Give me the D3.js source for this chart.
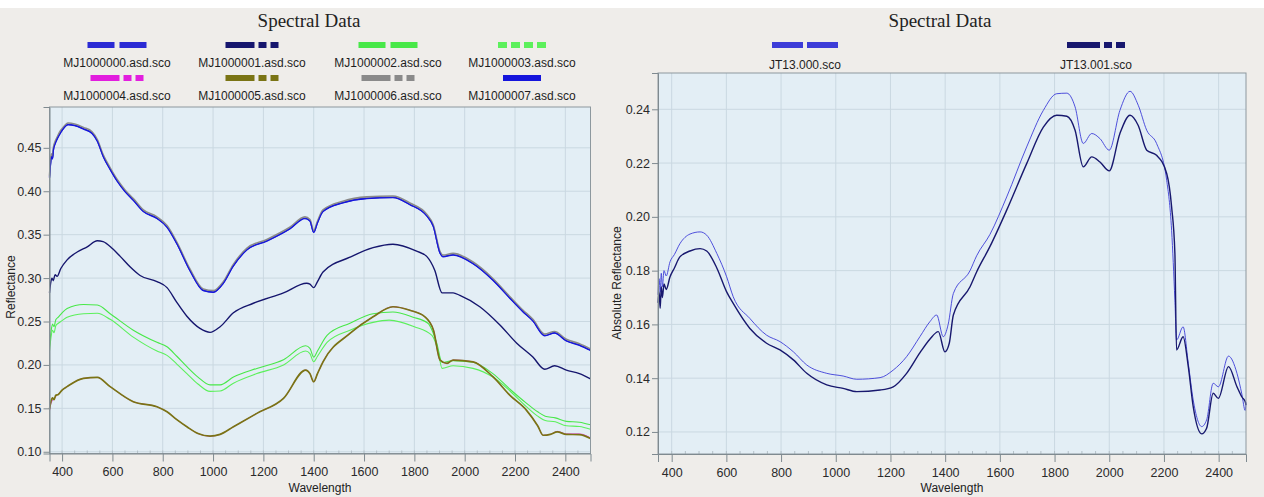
<!DOCTYPE html>
<html>
<head>
<meta charset="utf-8">
<script src="https://cdn.jsdelivr.net/npm/d3@7"></script>
<style>
body{margin:0;background:#efedea;}
svg{display:block;}
</style>
</head>
<body>
<svg id="chart" width="1264" height="497"></svg>
<script>
const wavelengthTicks = [400, 600, 800, 1000, 1200, 1400, 1600, 1800, 2000, 2200, 2400];
const leftYTicks = [0.10, 0.15, 0.20, 0.25, 0.30, 0.35, 0.40, 0.45];
const rightYTicks = [0.12, 0.14, 0.16, 0.18, 0.20, 0.22, 0.24];

const leftNames = ["MJ1000000.asd.sco", "MJ1000001.asd.sco", "MJ1000002.asd.sco", "MJ1000003.asd.sco",
                   "MJ1000004.asd.sco", "MJ1000005.asd.sco", "MJ1000006.asd.sco", "MJ1000007.asd.sco"];
const rightNames = ["JT13.000.sco", "JT13.001.sco"];

// [wavelength, reflectance]
const mj1000000 = [[350,0.416],[354,0.432],[358,0.441],[362,0.438],[366,0.449],[372,0.455],[380,0.46],[390,0.466],[400,0.47],[424,0.477],[450,0.476],[485,0.472],[519,0.467],[540,0.458],[564,0.44],[590,0.426],[619,0.412],[650,0.40],[683,0.39],[723,0.377],[777,0.369],[817,0.359],[856,0.340],[908,0.309],[961,0.286],[1001,0.284],[1040,0.294],[1080,0.314],[1135,0.333],[1214,0.343],[1305,0.357],[1365,0.369],[1385,0.366],[1400,0.353],[1415,0.364],[1437,0.377],[1516,0.387],[1611,0.392],[1715,0.393],[1782,0.385],[1849,0.372],[1875,0.36],[1902,0.329],[1914,0.325],[1954,0.327],[2033,0.317],[2112,0.298],[2180,0.277],[2230,0.262],[2271,0.251],[2318,0.234],[2357,0.237],[2404,0.228],[2456,0.223],[2500,0.217]];
const mj1000001 = [[350,0.283],[355,0.295],[360,0.30],[365,0.297],[372,0.304],[380,0.302],[395,0.311],[420,0.321],[460,0.330],[500,0.336],[540,0.343],[563,0.342],[600,0.334],[631,0.325],[670,0.313],[710,0.303],[777,0.296],[817,0.289],[856,0.272],[896,0.256],[948,0.242],[988,0.2375],[1028,0.244],[1081,0.26],[1160,0.271],[1280,0.283],[1372,0.294],[1385,0.293],[1400,0.289],[1415,0.296],[1437,0.307],[1544,0.324],[1636,0.335],[1715,0.339],[1809,0.331],[1849,0.325],[1881,0.309],[1910,0.283],[1954,0.283],[1981,0.280],[2060,0.267],[2140,0.246],[2207,0.225],[2271,0.209],[2318,0.195],[2357,0.199],[2404,0.194],[2456,0.19],[2500,0.184]];
const mj1000002 = [[350,0.221],[356,0.238],[362,0.247],[368,0.244],[375,0.252],[385,0.255],[400,0.26],[420,0.265],[485,0.2695],[540,0.269],[591,0.259],[683,0.24],[777,0.226],[817,0.221],[856,0.21],[896,0.198],[940,0.186],[988,0.177],[1028,0.177],[1081,0.186],[1174,0.196],[1280,0.206],[1368,0.222],[1385,0.219],[1400,0.209],[1415,0.216],[1453,0.234],[1544,0.248],[1636,0.259],[1715,0.261],[1795,0.255],[1854,0.248],[1889,0.225],[1910,0.203],[1954,0.205],[2033,0.203],[2112,0.19],[2180,0.172],[2245,0.156],[2290,0.146],[2320,0.141],[2360,0.139],[2404,0.135],[2456,0.134],[2500,0.131]];
const mj1000003 = [[350,0.216],[356,0.232],[362,0.24],[368,0.237],[375,0.245],[385,0.248],[400,0.251],[420,0.255],[485,0.259],[540,0.2595],[591,0.2525],[683,0.232],[777,0.216],[817,0.211],[856,0.201],[896,0.19],[940,0.178],[988,0.1695],[1028,0.17],[1081,0.179],[1174,0.19],[1280,0.2],[1368,0.216],[1385,0.213],[1400,0.2036],[1415,0.21],[1453,0.226],[1544,0.240],[1636,0.249],[1700,0.2516],[1800,0.244],[1870,0.234],[1895,0.215],[1910,0.196],[1954,0.199],[2033,0.196],[2112,0.186],[2180,0.17],[2245,0.152],[2290,0.141],[2320,0.136],[2360,0.1345],[2404,0.13],[2456,0.129],[2500,0.126]];
const mj1000004 = [[350,0.147],[356,0.156],[365,0.16],[372,0.163],[380,0.165],[390,0.168],[400,0.171],[420,0.175],[485,0.1845],[540,0.1856],[591,0.175],[683,0.1576],[777,0.1518],[817,0.146],[856,0.137],[896,0.1288],[940,0.121],[988,0.118],[1028,0.12],[1081,0.1288],[1174,0.1442],[1280,0.1615],[1368,0.194],[1385,0.19],[1400,0.1806],[1415,0.19],[1437,0.2036],[1544,0.2362],[1636,0.2554],[1715,0.267],[1782,0.263],[1842,0.2554],[1876,0.24],[1902,0.2056],[1930,0.2018],[1954,0.2056],[2033,0.2036],[2112,0.1864],[2180,0.165],[2245,0.148],[2290,0.13],[2312,0.119],[2340,0.12],[2368,0.1235],[2404,0.1205],[2456,0.1205],[2500,0.116]];
const mj1000005 = [[350,0.149],[356,0.158],[362,0.162],[368,0.16],[375,0.165],[385,0.166],[400,0.171],[420,0.175],[485,0.1845],[540,0.1856],[591,0.175],[683,0.1576],[777,0.1518],[817,0.146],[856,0.137],[896,0.1288],[940,0.121],[988,0.118],[1028,0.12],[1081,0.1288],[1174,0.1442],[1280,0.1615],[1368,0.194],[1385,0.19],[1400,0.1806],[1415,0.19],[1437,0.2036],[1544,0.2362],[1636,0.2554],[1715,0.267],[1782,0.263],[1842,0.2554],[1876,0.24],[1902,0.2056],[1930,0.2018],[1954,0.2056],[2033,0.2036],[2112,0.1864],[2180,0.165],[2245,0.148],[2290,0.13],[2312,0.119],[2340,0.12],[2368,0.123],[2404,0.12],[2456,0.1198],[2500,0.1152]];
const mj1000006 = [[350,0.418],[354,0.434],[358,0.443],[362,0.44],[366,0.451],[372,0.457],[380,0.462],[390,0.468],[400,0.472],[424,0.4785],[450,0.4775],[485,0.4735],[519,0.4685],[540,0.4595],[564,0.4415],[590,0.4275],[619,0.4135],[650,0.4015],[683,0.3915],[723,0.3785],[777,0.3705],[817,0.3605],[856,0.3415],[908,0.3105],[961,0.2875],[1001,0.2855],[1040,0.2955],[1080,0.3155],[1135,0.3345],[1214,0.3445],[1305,0.3585],[1365,0.3705],[1385,0.3675],[1400,0.3545],[1415,0.3655],[1437,0.3785],[1516,0.3885],[1611,0.3935],[1715,0.3945],[1782,0.3865],[1849,0.3735],[1875,0.3615],[1902,0.3305],[1914,0.3265],[1954,0.3285],[2033,0.3185],[2112,0.2995],[2180,0.2785],[2230,0.2635],[2271,0.2525],[2318,0.2355],[2357,0.2385],[2404,0.2295],[2456,0.2245],[2500,0.2185]];
const mj1000007 = [[350,0.415],[354,0.43],[358,0.44],[362,0.437],[366,0.448],[372,0.454],[380,0.46],[390,0.465],[400,0.47],[424,0.4765],[450,0.4755],[485,0.4715],[519,0.4665],[540,0.4575],[564,0.4395],[590,0.4255],[619,0.4115],[650,0.3995],[683,0.3895],[723,0.3765],[777,0.3685],[817,0.3585],[856,0.3395],[908,0.3085],[961,0.2855],[1001,0.2835],[1040,0.2935],[1080,0.3135],[1135,0.3325],[1214,0.3425],[1305,0.3565],[1365,0.3685],[1385,0.3655],[1400,0.3525],[1415,0.3635],[1437,0.3765],[1516,0.3865],[1611,0.3915],[1715,0.3925],[1782,0.3845],[1849,0.3715],[1875,0.3595],[1902,0.3285],[1914,0.3245],[1954,0.3265],[2033,0.3165],[2112,0.2975],[2180,0.2765],[2230,0.2615],[2271,0.2505],[2318,0.2335],[2357,0.2365],[2404,0.2275],[2456,0.2225],[2500,0.2165]];

const jt13000 = [[350,0.171],[354,0.177],[358,0.172],[362,0.179],[366,0.174],[372,0.18],[380,0.178],[394,0.1833],[410,0.186],[430,0.19],[467,0.1936],[504,0.1944],[528,0.1932],[565,0.1864],[601,0.1777],[625,0.1703],[686,0.1622],[747,0.156],[796,0.1536],[845,0.1498],[894,0.1449],[967,0.1418],[1027,0.1408],[1077,0.1396],[1162,0.1402],[1210,0.143],[1259,0.148],[1308,0.1555],[1344,0.161],[1369,0.1635],[1393,0.1554],[1411,0.16],[1430,0.1715],[1491,0.18],[1515,0.1855],[1564,0.1935],[1625,0.2074],[1698,0.226],[1759,0.2396],[1808,0.2458],[1845,0.246],[1875,0.2409],[1905,0.2273],[1936,0.231],[1966,0.2291],[2000,0.2248],[2039,0.2396],[2076,0.2467],[2106,0.2415],[2137,0.2322],[2173,0.2273],[2210,0.2136],[2228,0.195],[2240,0.169],[2246,0.1542],[2270,0.1591],[2289,0.1455],[2307,0.1319],[2338,0.122],[2356,0.1245],[2380,0.1381],[2399,0.1368],[2436,0.1482],[2467,0.1418],[2485,0.134],[2497,0.128],[2500,0.131]];
const jt13001 = [[350,0.168],[354,0.172],[358,0.166],[362,0.174],[366,0.17],[372,0.175],[380,0.173],[394,0.1777],[410,0.181],[430,0.1851],[467,0.1873],[504,0.1882],[528,0.1873],[565,0.181],[601,0.1721],[625,0.1678],[686,0.1585],[747,0.153],[796,0.1505],[845,0.1468],[894,0.1418],[967,0.1375],[1027,0.1362],[1077,0.135],[1162,0.1356],[1210,0.1368],[1259,0.1418],[1308,0.1495],[1344,0.1545],[1375,0.1573],[1399,0.1498],[1415,0.153],[1430,0.1635],[1491,0.174],[1515,0.1795],[1564,0.189],[1625,0.2025],[1698,0.2198],[1759,0.2334],[1808,0.2378],[1845,0.2374],[1875,0.2322],[1905,0.2186],[1936,0.2223],[1966,0.2204],[2000,0.2171],[2039,0.231],[2076,0.2378],[2106,0.234],[2137,0.2248],[2173,0.2229],[2210,0.2161],[2228,0.2037],[2240,0.1864],[2246,0.1505],[2270,0.1554],[2289,0.1443],[2307,0.1294],[2338,0.1193],[2356,0.1214],[2380,0.1344],[2399,0.1325],[2436,0.1443],[2467,0.1368],[2485,0.133],[2497,0.1313],[2500,0.13]];

const leftSeries = [mj1000000, mj1000001, mj1000002, mj1000003, mj1000004, mj1000005, mj1000006, mj1000007];
const rightSeries = [jt13000, jt13001];

const leftColors = ["#2b2bd4", "#16166e", "#48e848", "#5cf05c", "#e21ede", "#7a7414", "#8a8a8a", "#1515dc"];
const leftDash = ["27,5", "29,4,8,4,8,4", "27,5", "9,4", "29,4,8,4,8,4", "29,4,8,4,8,4", "29,4,8,4,8,4", null];
const leftWidths = [1.4, 1.4, 1.1, 1.1, 0.9, 1.7, 1.6, 1.2];
const rightColors = ["#3d3dd8", "#18186e"];
const rightDash = ["31,4", "33,4,8,4,9,4"];
const rightWidths = [0.9, 1.4];

const svg = d3.select("#chart");

svg.append("rect")
    .attr("x", 0).attr("y", 0)
    .attr("width", 1264).attr("height", 8)
    .attr("fill", "#ffffff");

function draw_panel(p){
    const g = svg.append("g");
    const x = d3.scaleLinear().domain([350, 2500]).range([p.left, p.right]);
    const y = d3.scaleLinear().domain(p.yDomain).range([p.bottom, p.top]);

    g.append("rect")
    .attr("x", p.left).attr("y", p.top)
    .attr("width", p.right - p.left).attr("height", p.bottom - p.top)
    .attr("fill", "#e3eef5");

    g.append("g")
    .selectAll("line.vg")
    .data(wavelengthTicks)
    .join("line")
    .attr("x1", d => x(d)).attr("x2", d => x(d))
    .attr("y1", p.top).attr("y2", p.bottom)
    .attr("stroke", "#cad8e1").attr("stroke-width", 1);

    g.append("g")
    .selectAll("line.hg")
    .data(p.yTicks)
    .join("line")
    .attr("x1", p.left).attr("x2", p.right)
    .attr("y1", d => y(d)).attr("y2", d => y(d))
    .attr("stroke", "#cad8e1").attr("stroke-width", 1);

    g.append("g")
    .selectAll("line")
    .data(d3.range(400, 2500, 50))
    .join("line")
    .attr("x1", d => x(d)).attr("x2", d => x(d))
    .attr("y1", p.bottom).attr("y2", p.bottom - 3)
    .attr("stroke", "#b4c0c8");

    const line = d3.line()
    .x(d => x(d[0]))
    .y(d => y(d[1]))
    .curve(d3.curveMonotoneX);

    g.append("g")
    .selectAll("path")
    .data(p.series)
    .join("path")
    .attr("d", line)
    .attr("fill", "none")
    .attr("stroke", (d, i) => p.colors[i])
    .attr("stroke-width", (d, i) => p.widths[i]);

    g.append("rect")
    .attr("x", p.left).attr("y", p.top)
    .attr("width", p.right - p.left).attr("height", p.bottom - p.top)
    .attr("fill", "none")
    .attr("stroke", "#8d989e");

    const xAxis = g.append("g")
    .attr("transform", "translate(0," + p.bottom + ")")
    .call(d3.axisBottom(x).tickValues(wavelengthTicks).tickFormat(d3.format("d")).tickSize(8).tickPadding(6));
    const yAxis = g.append("g")
    .attr("transform", "translate(" + p.left + ",0)")
    .call(d3.axisLeft(y).tickValues(p.yTicks).tickFormat(d3.format(".2f")).tickSize(6).tickPadding(2));
    [xAxis, yAxis].forEach(a => {
        a.select(".domain").attr("stroke", "#7f8a90");
        a.selectAll(".tick line").attr("stroke", "#7f8a90");
        a.selectAll(".tick text")
        .style("font-family", "Arial, 'Liberation Sans'")
        .style("font-size", "12.5px")
        .attr("fill", "#2a2a2a");
    });

    g.append("text")
    .attr("x", (p.left + p.right) / 2)
    .attr("y", 492)
    .attr("text-anchor", "middle")
    .style("font-family", "Arial, 'Liberation Sans'")
    .style("font-size", "12px")
    .attr("fill", "#222")
    .text("Wavelength");

    g.append("text")
    .attr("transform", "translate(" + p.yLabelX + "," + p.yLabelY + ") rotate(-90)")
    .attr("text-anchor", "middle")
    .style("font-family", "Arial, 'Liberation Sans'")
    .style("font-size", "12px")
    .attr("fill", "#222")
    .text(p.yLabel);

    g.append("text")
    .attr("x", p.titleX)
    .attr("y", 27)
    .attr("text-anchor", "middle")
    .style("font-family", "'Liberation Serif', 'Times New Roman', serif")
    .style("font-size", "19px")
    .attr("fill", "#222")
    .text("Spectral Data");

    const items = g.append("g")
    .selectAll("g")
    .data(p.names)
    .join("g");

    items.append("line")
    .attr("x1", (d, i) => p.legendX[i] - p.swatchW[i] / 2)
    .attr("x2", (d, i) => p.legendX[i] + p.swatchW[i] / 2)
    .attr("y1", (d, i) => p.legendY[i])
    .attr("y2", (d, i) => p.legendY[i])
    .attr("stroke", (d, i) => p.colors[i])
    .attr("stroke-width", 6)
    .attr("stroke-dasharray", (d, i) => p.dash[i]);

    items.append("text")
    .attr("x", (d, i) => p.legendX[i])
    .attr("y", (d, i) => p.legendY[i] + p.labelGap)
    .attr("text-anchor", "middle")
    .style("font-family", "Arial, 'Liberation Sans'")
    .style("font-size", "12px")
    .attr("fill", "#1e1e1e")
    .text(d => d);
}

draw_panel({
    left: 49.5, right: 590.5, top: 107, bottom: 453.5,
    yDomain: [0.098, 0.497], yTicks: leftYTicks,
    series: leftSeries, colors: leftColors, widths: leftWidths, dash: leftDash,
    names: leftNames,
    legendX: [117, 252, 388, 522, 117, 252, 388, 522],
    legendY: [45, 45, 45, 45, 78, 78, 78, 78],
    swatchW: [59, 53, 59, 48, 53, 53, 53, 38],
    labelGap: 22,
    yLabel: "Reflectance", yLabelX: 15, yLabelY: 287,
    titleX: 309
});

draw_panel({
    left: 658, right: 1246, top: 73, bottom: 454,
    yDomain: [0.1118, 0.2535], yTicks: rightYTicks,
    series: rightSeries, colors: rightColors, widths: rightWidths, dash: rightDash,
    names: rightNames,
    legendX: [805, 1096],
    legendY: [45, 45],
    swatchW: [66, 58],
    labelGap: 24,
    yLabel: "Absolute Reflectance", yLabelX: 621, yLabelY: 283,
    titleX: 940
});
</script>
</body>
</html>
